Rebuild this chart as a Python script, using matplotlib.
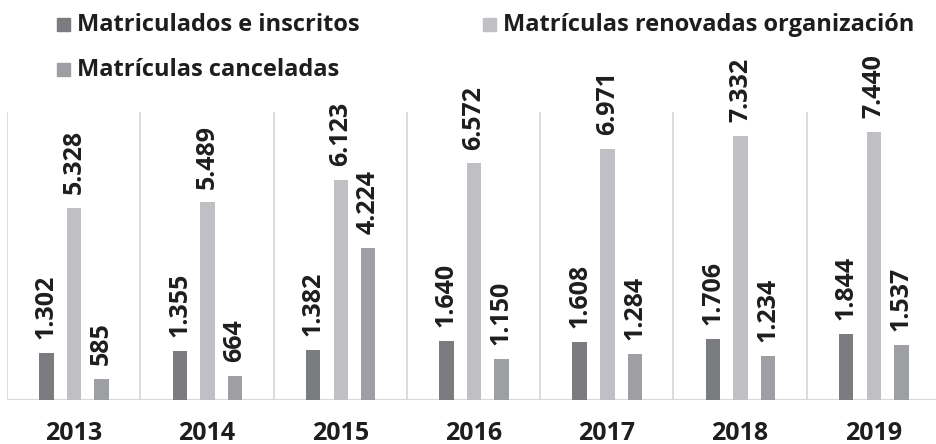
import matplotlib.pyplot as plt
from matplotlib.patches import Rectangle
import numpy as np

plt.rcParams['font.family'] = ['Open Sans', 'DejaVu Sans']

years = ["2013", "2014", "2015", "2016", "2017", "2018", "2019"]
matriculados = [1302, 1355, 1382, 1640, 1608, 1706, 1844]
renovadas = [5328, 5489, 6123, 6572, 6971, 7332, 7440]
canceladas = [585, 664, 4224, 1150, 1284, 1234, 1537]

series_names = ["Matriculados e inscritos", "Matrículas renovadas organización",
                "Matrículas canceladas"]
colors = ["#7b7c80", "#bfc0c4", "#9e9fa3"]
text_color = "#1e1e1e"

W, H = 936, 444
fig = plt.figure(figsize=(W / 100, H / 100), dpi=100)
# axes box in pixels: left 7, bottom 400 (from top), top 112
ax = fig.add_axes([7 / W, (H - 400) / H, 933 / W, 288 / H])

x = np.arange(len(years))
bw = 0.108
offs = [-0.204, 0.004, 0.21]
for vals, off, c in zip([matriculados, renovadas, canceladas], offs, colors):
    bars = ax.bar(x + off, vals, width=bw, color=c, zorder=3)
    for b, v in zip(bars, vals):
        ax.annotate(f"{v:,}".replace(",", "."),
                    (b.get_x() + b.get_width() / 2, v),
                    xytext=(0, 10), textcoords="offset points",
                    rotation=90, ha="center", va="bottom",
                    fontsize=18, fontweight="bold", color=text_color,
                    annotation_clip=False)

ax.set_xlim(-0.5, 6.5)
ax.set_ylim(0, 8000)

# separators between groups
for s in np.arange(-0.5, 7, 1):
    ax.axvline(s, color="#d9d9d9", lw=1.3, zorder=1)
ax.axhline(0, color="#d9d9d9", lw=1.5, zorder=2)

for sp in ax.spines.values():
    sp.set_visible(False)
ax.set_yticks([])
ax.set_xticks([])
for i, yr in enumerate(years):
    ax.text(i, -0.115, yr, transform=ax.get_xaxis_transform(),
            ha="center", va="center", fontsize=18, fontweight="bold",
            color=text_color)

# legend drawn by hand
leg = [(57, 25, 0), (483, 25, 1), (57, 70, 2)]
for px, py, k in leg:
    fig.add_artist(Rectangle((px / W, 1 - (py + 6.5) / H), 13 / W, 13 / H,
                             transform=fig.transFigure, color=colors[k]))
    fig.text((px + 20) / W, 1 - py / H, series_names[k], ha="left",
             va="center", fontsize=17, fontweight="bold", color=text_color)

fig.savefig("out.png", dpi=100)
